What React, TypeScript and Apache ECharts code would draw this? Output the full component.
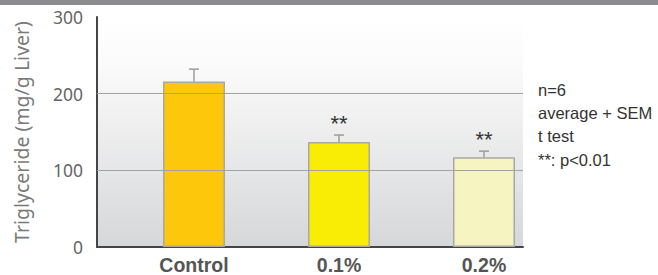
import React, { useEffect, useRef } from "react";
import * as echarts from "echarts";

const categories = ["Control", "0.1%", "0.2%"];
const means = [216, 137, 117];
const sems = [16, 9, 8];
const significance = ["", "**", "**"];
const barColors = ["#fdc70c", "#f9ec05", "#f6f4c0"];
const yTicks = [0, 100, 200, 300];
const gridValues = [100, 200];
const notes = ["n=6", "average + SEM", "t test", "**: p<0.01"];

export default function App() {
  const ref = useRef<HTMLDivElement>(null);
  useEffect(() => {
    if (!ref.current) return;
    const chart = echarts.init(ref.current, null, { renderer: "svg" });
    const barData = means.map((m, i) => ({
      value: [i, m],
      itemStyle: { color: barColors[i], borderColor: "#a8a8a8", borderWidth: 1.5 },
    }));
    const errData = means.map((m, i) => [i, m, sems[i]]);
    chart.setOption({
      animation: false,
      backgroundColor: "#ffffff",
      grid: {
        left: 97,
        right: 135,
        top: 17,
        bottom: 27,
        show: true,
        borderWidth: 0,
        backgroundColor: new echarts.graphic.LinearGradient(0, 0, 0, 1, [
          { offset: 0, color: "#ffffff" },
          { offset: 0.2, color: "#fbfbfb" },
          { offset: 1, color: "#d6d7d9" },
        ]),
      },
      graphic: [
        {
          type: "rect",
          left: 0,
          top: 0,
          shape: { width: 658, height: 5 },
          style: { fill: "#8c8c8e" },
        },
        {
          type: "text",
          left: 538,
          top: 78,
          style: {
            text: notes.join("\n"),
            fontFamily: "Liberation Sans, Arial, sans-serif",
            fontSize: 16.5,
            lineHeight: 23.3,
            fill: "#333333",
          },
        },
      ],
      xAxis: {
        type: "value",
        min: -0.669,
        max: 2.269,
        axisLine: { show: true, onZero: false, lineStyle: { color: "#454545", width: 2 } },
        axisTick: { show: false },
        splitLine: { show: false },
        axisLabel: {
          customValues: [0, 1, 2],
          formatter: (v: number) => categories[Math.round(v)] ?? "",
          fontFamily: "Liberation Sans, Arial, sans-serif",
          fontWeight: "bold",
          fontSize: 19.5,
          color: "#555555",
          margin: 8,
        },
      },
      yAxis: {
        type: "value",
        min: 0,
        max: 300,
        interval: 100,
        name: "Triglyceride (mg/g Liver)",
        nameLocation: "middle",
        nameGap: 66,
        nameTextStyle: {
          fontFamily: "Noto Sans, sans-serif",
          fontSize: 19.5,
          color: "#7a7a7a",
        },
        axisLine: { show: true, onZero: false, lineStyle: { color: "#454545", width: 2 } },
        axisTick: { show: false },
        splitLine: { show: false },
        axisLabel: {
          customValues: yTicks,
          fontFamily: "Noto Sans, sans-serif",
          fontSize: 17.5,
          color: "#666666",
          margin: 14,
        },
      },
      series: [
        {
          type: "line",
          data: [],
          z: 1,
          silent: true,
          markLine: {
            silent: true,
            symbol: "none",
            label: { show: false },
            lineStyle: { color: "#a3a3a3", width: 1, type: "solid" },
            data: gridValues.map((v) => ({ yAxis: v })),
          },
        },
        {
          type: "bar",
          data: barData,
          barWidth: 62,
          z: 3,
        },
        {
          type: "custom",
          z: 4,
          data: errData,
          renderItem: (params: any, api: any) => {
            const i = api.value(0);
            const m = api.value(1);
            const s = api.value(2);
            const base = api.coord([i, m]);
            const top = api.coord([i, m + s]);
            const children: any[] = [
              {
                type: "line",
                shape: { x1: base[0], y1: base[1], x2: top[0], y2: top[1] },
                style: { stroke: "#9c9c9c", lineWidth: 1.5 },
              },
              {
                type: "line",
                shape: { x1: top[0] - 5, y1: top[1], x2: top[0] + 5, y2: top[1] },
                style: { stroke: "#9c9c9c", lineWidth: 1.5 },
              },
            ];
            const sig = significance[params.dataIndex];
            if (sig) {
              children.push({
                type: "text",
                x: top[0],
                y: top[1] - 12,
                style: {
                  text: sig,
                  align: "center",
                  verticalAlign: "middle",
                  fontFamily: "Liberation Sans, Arial, sans-serif",
                  fontSize: 22,
                  fill: "#333333",
                },
              });
            }
            return { type: "group", children };
          },
        },
      ],
    });
    return () => chart.dispose();
  }, []);
  return (
    <div
      ref={ref}
      style={{ position: "fixed", left: 0, top: 0, width: 658, height: 275 }}
    />
  );
}
